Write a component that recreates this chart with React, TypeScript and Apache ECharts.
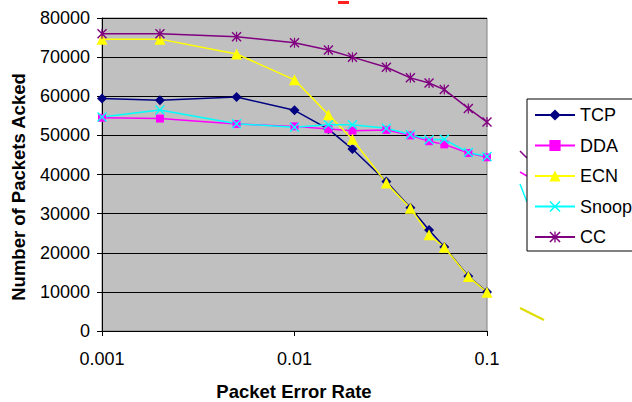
import React, { useEffect, useRef } from "react";
import * as echarts from "echarts";

const errorRates = [0.001, 0.002, 0.005, 0.01, 0.015, 0.02, 0.03, 0.04, 0.05, 0.06, 0.08, 0.1];
const tcp = [59400, 59000, 59800, 56400, 51600, 46500, 38200, 31500, 25800, 21500, 14000, 10000];
const dda = [54500, 54300, 52900, 52300, 51600, 51200, 51400, 50000, 48500, 47700, 45500, 44400];
const ecn = [74600, 74600, 70800, 64200, 55300, 49000, 37800, 31400, 24600, 21400, 13900, 9900];
const snoop = [54700, 56500, 52950, 52100, 52700, 52700, 51800, 50200, 48900, 49000, 45600, 44600];
const cc = [76000, 76000, 75200, 73700, 71800, 70000, 67400, 64700, 63400, 61700, 56900, 53400];
const seriesNames = ["TCP", "DDA", "ECN", "Snoop", "CC"];

const FONT = "'Liberation Sans', Arial, sans-serif";

const X_PATH =
  "path://M0,1 L1,0 L5,4 L9,0 L10,1 L6,5 L10,9 L9,10 L5,6 L1,10 L0,9 L4,5 Z";
const STAR_PATH =
  "path://M0,1 L1,0 L5,4 L9,0 L10,1 L6,5 L10,9 L9,10 L5,6 L1,10 L0,9 L4,5 Z M4.4,0 L5.6,0 L5.6,10 L4.4,10 Z";

export default function App() {
  const ref = useRef<HTMLDivElement>(null);

  useEffect(() => {
    if (!ref.current) return;
    const chart = echarts.init(ref.current, undefined, { renderer: "svg" });
    const pair = (ys: number[]) => errorRates.map((x, i) => [x, ys[i]]);
    const mk = (
      name: string,
      ys: number[],
      color: string,
      symbol: string,
      symbolSize: number
    ) => ({
      name,
      type: "line",
      data: pair(ys),
      symbol,
      symbolSize,
      showSymbol: true,
      lineStyle: { color, width: 1.5 },
      itemStyle: { color, borderWidth: 0 },
      emphasis: { disabled: true },
    });

    chart.setOption({
      animation: false,
      backgroundColor: "#ffffff",
      textStyle: { fontFamily: FONT },
      grid: {
        left: 102,
        right: 145,
        top: 18,
        bottom: 71,
        show: true,
        backgroundColor: "#C0C0C0",
        borderColor: "#808080",
        borderWidth: 1,
      },
      legend: {
        orient: "vertical",
        left: 527,
        top: 99,
        data: seriesNames,
        itemWidth: 40,
        itemHeight: 14,
        itemGap: 10.5,
        padding: [6, 40, 4, 7],
        borderColor: "#000000",
        borderWidth: 1,
        backgroundColor: "#ffffff",
        textStyle: { fontFamily: FONT, fontSize: 18, color: "#000", lineHeight: 20 },
      },
      xAxis: {
        type: "log",
        logBase: 10,
        min: 0.001,
        max: 0.1,
        axisLine: { show: true, lineStyle: { color: "#000", width: 1 } },
        axisTick: { show: true, length: 5, inside: false, lineStyle: { color: "#000" } },
        minorTick: { show: false },
        splitLine: { show: false },
        axisLabel: {
          fontFamily: FONT,
          fontSize: 18,
          color: "#000",
          margin: 19,
          formatter: (v: number) => String(Number(v.toPrecision(3))),
        },
      },
      yAxis: {
        type: "value",
        min: 0,
        max: 80000,
        interval: 10000,
        axisLine: { show: true, lineStyle: { color: "#000", width: 1 } },
        axisTick: { show: true, length: 5, inside: false, lineStyle: { color: "#000" } },
        splitLine: { show: true, lineStyle: { color: "#000", width: 1 } },
        axisLabel: {
          fontFamily: FONT,
          fontSize: 18,
          color: "#000",
          margin: 12,
          formatter: (v: number) => String(v),
        },
      },
      graphic: [
        {
          type: "text",
          x: 294,
          y: 391,
          style: {
            text: "Packet Error Rate",
            font: `bold 18.5px ${FONT}`,
            fill: "#000",
            textAlign: "center",
            textVerticalAlign: "middle",
          },
        },
        {
          type: "text",
          x: 18,
          y: 187,
          rotation: Math.PI / 2,
          style: {
            text: "Number of Packets Acked",
            font: `bold 18.5px ${FONT}`,
            fill: "#000",
            textAlign: "center",
            textVerticalAlign: "middle",
          },
        },
        { type: "line", shape: { x1: 520, y1: 151, x2: 527, y2: 158 }, style: { stroke: "#800080", lineWidth: 1.5 } },
        { type: "line", shape: { x1: 520, y1: 172, x2: 527, y2: 176 }, style: { stroke: "#FF00FF", lineWidth: 1.5 } },
        { type: "line", shape: { x1: 520, y1: 184, x2: 527, y2: 202 }, style: { stroke: "#00FFFF", lineWidth: 1.5 } },
        { type: "line", shape: { x1: 520, y1: 308, x2: 544, y2: 320 }, style: { stroke: "#DDDD00", lineWidth: 2 } },
        { type: "rect", shape: { x: 338, y: 1, width: 11, height: 3 }, style: { fill: "#FF2020" } },
      ],
      series: [
        mk("TCP", tcp, "#000080", "diamond", 10),
        mk("DDA", dda, "#FF00FF", "rect", 8),
        mk("ECN", ecn, "#FFFF00", "triangle", 11),
        mk("Snoop", snoop, "#00FFFF", X_PATH, 10),
        mk("CC", cc, "#800080", STAR_PATH, 10),
      ],
    });
    return () => chart.dispose();
  }, []);

  return (
    <div
      ref={ref}
      style={{ position: "fixed", left: 0, top: 0, width: 632, height: 402 }}
    />
  );
}
